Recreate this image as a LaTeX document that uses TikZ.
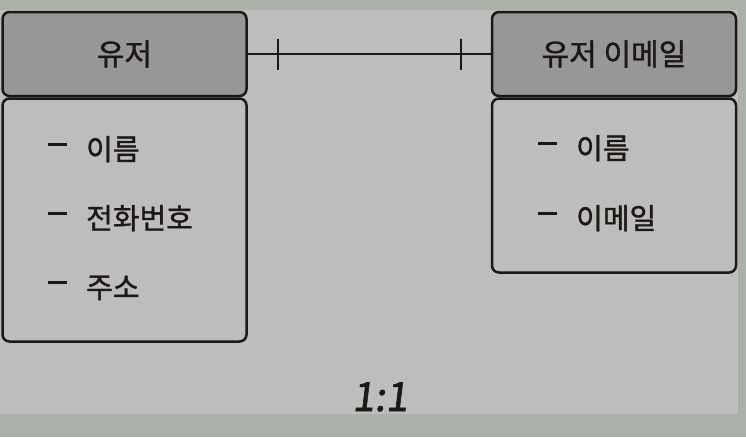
\documentclass[tikz,border=0pt]{standalone}
\usepackage{fontspec}
\usepackage{xcolor}
\newfontfamily\kofont[FakeBold=1.2]{Noto Sans CJK KR}
\newfontfamily\ratiofont[FakeSlant=0.12, FakeBold=1.5]{Noto Sans CJK KR}
\usetikzlibrary{positioning}
\definecolor{outerbg}{RGB}{168,178,166}
\definecolor{panel}{RGB}{189,189,189}
\definecolor{headfill}{RGB}{151,151,151}
\definecolor{ink}{RGB}{28,24,24}

\tikzset{
  head/.style={draw=ink, line width=2.5pt, fill=headfill, rounded corners=7pt,
    minimum width=244pt, minimum height=84pt, inner sep=0pt, text=ink,
    font=\kofont\fontsize{30}{30}\selectfont},
  body/.style={draw=ink, line width=2.5pt, fill=panel, rounded corners=7pt,
    minimum width=244pt, inner sep=0pt},
  item/.style={anchor=base west, inner sep=0pt, text=ink,
    font=\kofont\fontsize{29}{29}\selectfont},
  conn/.style={draw=ink, line width=2pt},
}
\newcommand{\itemdash}{\textcolor{ink}{\rule[0.5em]{19pt}{3pt}}\hspace{19pt}}

\begin{document}
\begin{tikzpicture}[x=1pt, y=-1pt]
  % Background
  \useasboundingbox (0,0) rectangle (746,437);
  \fill[outerbg] (0,0) rectangle (746,437);
  \fill[panel] (0,10) rectangle (738,414);

  % User table
  \node[head] (userHead) at (124.5,54) {유저};
  \node[body, minimum height=243pt, below=0pt of userHead] (userBody) {};
  \foreach \i/\t in {1/이름, 2/전화번호, 3/주소} {
    \node[item] (userItem\i) at (48,{91+69*\i}) {\itemdash\t};
  }

  % User email table
  \node[head] (emailHead) at (614,54) {유저 이메일};
  \node[body, minimum height=174pt, below=0pt of emailHead] (emailBody) {};
  \foreach \i/\t in {1/이름, 2/이메일} {
    \node[item] (emailItem\i) at (538,{89+70*\i}) {\itemdash\t};
  }

  % One-to-one relation
  \draw[conn] (userHead.east) -- (emailHead.west);
  \draw[line width=2.5pt, ink] ([xshift=30pt]userHead.east) ++(0,-15.5) -- ++(0,31);
  \draw[line width=2.5pt, ink] ([xshift=-30pt]emailHead.west) ++(0,-15.5) -- ++(0,31);

  \node[anchor=base, inner sep=0pt, text=ink, font=\ratiofont\fontsize{40}{40}\selectfont]
    (ratio) at (380,411) {1:1};
\end{tikzpicture}
\end{document}
